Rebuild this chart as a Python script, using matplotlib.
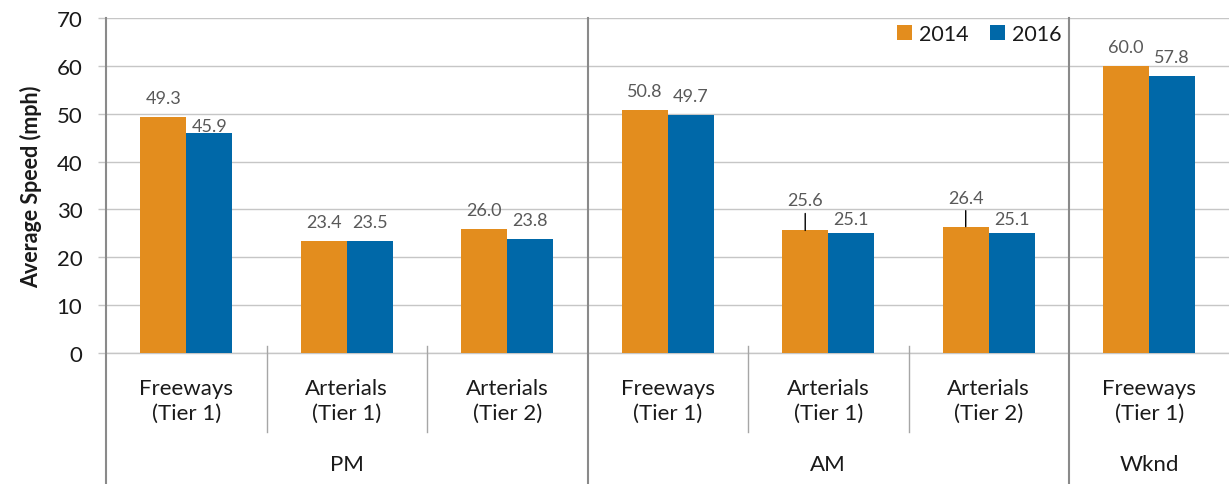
import matplotlib
matplotlib.use("Agg")
import matplotlib.pyplot as plt
from matplotlib.patches import Patch
from matplotlib.transforms import blended_transform_factory
import numpy as np

categories = ["Freeways\n(Tier 1)", "Arterials\n(Tier 1)", "Arterials\n(Tier 2)",
              "Freeways\n(Tier 1)", "Arterials\n(Tier 1)", "Arterials\n(Tier 2)",
              "Freeways\n(Tier 1)"]
groups = ["PM", "AM", "Wknd"]
group_sizes = [3, 3, 1]
series_names = ["2014", "2016"]
speed_2014 = [49.3, 23.4, 26.0, 50.8, 25.6, 26.4, 60.0]
speed_2016 = [45.9, 23.5, 23.8, 49.7, 25.1, 25.1, 57.8]
yticks = [0, 10, 20, 30, 40, 50, 60, 70]
y_label = "Average Speed (mph)"

ORANGE = "#E38D1E"
BLUE = "#0068A8"
GRID = "#C6C6C6"
AXIS = "#8A8A8A"
LABEL_GRAY = "#595959"
TEXT = "#1A1A1A"

plt.rcParams['font.family'] = ['Lato', 'DejaVu Sans']

W, H = 1229, 485
fig = plt.figure(figsize=(W / 100, H / 100), dpi=100)
left_px, right_px, top_px, bot_px = 106, 1229.5, 19, 354
ax = fig.add_axes([left_px / W, 1 - bot_px / H, (right_px - left_px) / W, (bot_px - top_px) / H])

n = len(categories)
x = np.arange(n)
w = 0.287
ax.bar(x - w / 2, speed_2014, w, color=ORANGE, zorder=3)
ax.bar(x + w / 2, speed_2016, w, color=BLUE, zorder=3)
ax.set_xlim(-0.5, n - 0.5)
ax.set_ylim(0, 70)
ax.set_yticks(yticks)
ax.set_xticks([])
ax.yaxis.grid(True, color=GRID, lw=1, zorder=0)
for s in ["top", "right", "left"]:
    ax.spines[s].set_visible(False)
ax.spines["bottom"].set_color(GRID)
ax.spines["bottom"].set_linewidth(1)
ax.tick_params(axis='y', direction='out', length=6, color=GRID, width=1,
               labelsize=16, pad=11, labelcolor=TEXT)
ax.set_ylabel(y_label, fontsize=15.5, fontweight='bold', labelpad=10, color=TEXT)

# data labels (offsets of label centre above bar top in pixels)
offsets_2014 = {4: 30, 5: 29}
offsets_2016 = {0: 7, 4: 14, 5: 14}
for vals, shift, offs in [(speed_2014, -w / 2, offsets_2014), (speed_2016, w / 2, offsets_2016)]:
    for i, v in enumerate(vals):
        off = offs.get(i, 19)
        ax.annotate(f"{v:.1f}", (x[i] + shift, v), xytext=(0, off * 0.72),
                    textcoords="offset points", ha="center", va="center",
                    fontsize=13, color=LABEL_GRAY, zorder=5)
        if off >= 25:
            ax.annotate("", (x[i] + shift, v), xytext=(0, (off - 13) * 0.72),
                        textcoords="offset points",
                        arrowprops=dict(arrowstyle="-", color="black", lw=1,
                                        shrinkA=0, shrinkB=0), zorder=5)

trans = blended_transform_factory(ax.transData, ax.transAxes)
ax_h = bot_px - top_px
fig_bottom_axes = -(H - bot_px) / ax_h

# left axis line extended
ax.plot([-0.5, -0.5], [1, fig_bottom_axes], transform=trans, color=AXIS, lw=1.5,
        clip_on=False, zorder=4)
# group separators
bounds = np.cumsum(group_sizes)[:-1] - 0.5
for b in bounds:
    ax.plot([b, b], [1, fig_bottom_axes], transform=trans, color=AXIS, lw=1.5,
            clip_on=False, zorder=4)
# minor separators
for i in range(n - 1):
    b = i + 0.5
    if b in bounds:
        continue
    ax.plot([b, b], [7 / ax_h, -(433 - bot_px) / ax_h], transform=trans,
            color="#A6A6A6", lw=1, clip_on=False, zorder=4)

# category labels
for i, c in enumerate(categories):
    ax.text(x[i], -(401 - bot_px) / ax_h, c, transform=trans, ha="center", va="center",
            fontsize=16, linespacing=1.3, color=TEXT)
# group labels
start = 0
for g, sz in zip(groups, group_sizes):
    ax.text(start + (sz - 1) / 2, -(465 - bot_px) / ax_h, g, transform=trans,
            ha="center", va="center", fontsize=16, color=TEXT)
    start += sz

handles = [Patch(facecolor=ORANGE), Patch(facecolor=BLUE)]
ax.legend(handles, series_names, loc="upper right",
          bbox_to_anchor=((1061 - left_px) / (right_px - left_px), (bot_px - 25) / ax_h),
          ncol=2, frameon=False, fontsize=15.5, handlelength=0.7, handleheight=0.7,
          handletextpad=0.3, columnspacing=1.0, borderpad=0, borderaxespad=0,
          labelcolor=TEXT)

fig.savefig("out.png", dpi=100)
